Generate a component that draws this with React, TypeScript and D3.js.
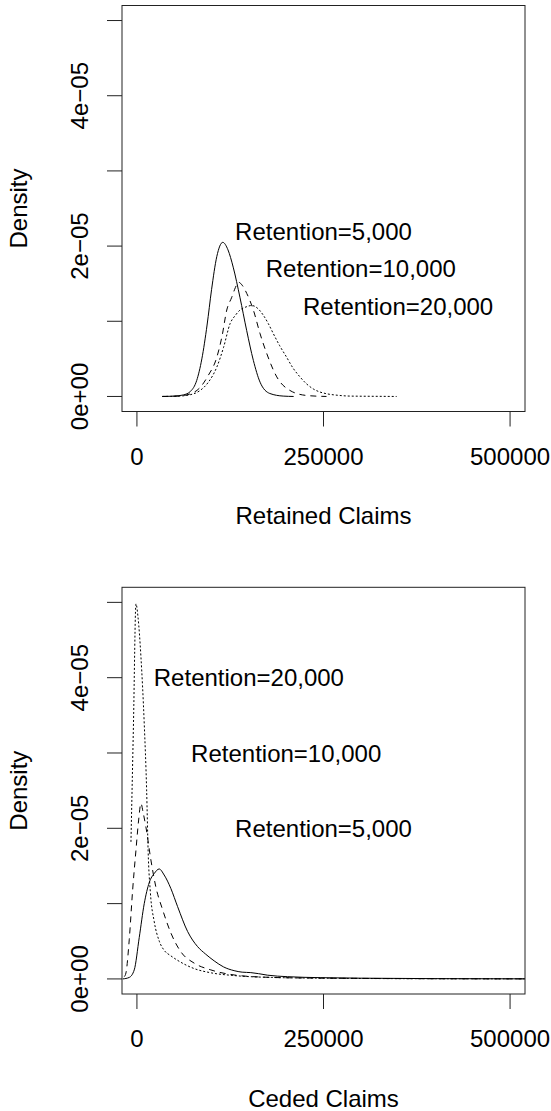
import React, { useEffect, useRef } from 'react';
import * as d3 from 'd3';

// density values are in units of 1e-05
const retained5kX = [34000, 50000, 62000, 72000, 80000, 87000, 94000, 100000, 107000, 115000, 122000, 129000, 138000, 147000, 156000, 165000, 178000, 196000, 210000];
const retained5kY = [0, 0.005, 0.02, 0.07, 0.21, 0.5, 0.95, 1.42, 1.86, 2.05, 1.95, 1.72, 1.32, 0.88, 0.48, 0.19, 0.04, 0.005, 0];

const retained10kX = [34000, 55000, 70000, 84700, 95000, 107000, 114000, 120400, 127100, 132000, 136000, 141000, 147200, 156000, 165000, 174000, 187400, 205000, 227500, 254000];
const retained10kY = [0, 0.005, 0.03, 0.12, 0.27, 0.52, 0.8, 1.15, 1.32, 1.45, 1.52, 1.48, 1.37, 1.15, 0.835, 0.57, 0.26, 0.08, 0.013, 0];

const retained20kX = [34000, 55000, 70000, 84700, 95000, 107000, 116000, 124900, 132000, 138200, 146000, 153900, 162000, 169400, 176000, 182800, 191000, 200700, 209000, 218500, 227000, 236300, 245000, 254300, 270000, 285500, 320000, 348000];
const retained20kY = [0, 0.004, 0.02, 0.08, 0.18, 0.39, 0.65, 0.97, 1.08, 1.15, 1.19, 1.21, 1.17, 1.08, 0.97, 0.835, 0.68, 0.52, 0.38, 0.26, 0.17, 0.1, 0.06, 0.036, 0.015, 0.005, 0.002, 0];

const ceded5kX = [-19100, -10300, -3600, 3100, 9800, 16500, 23200, 29800, 36500, 45500, 54500, 67900, 81200, 92000, 103500, 116000, 130200, 141000, 152600, 163000, 174900, 201700, 246200, 300000, 400000, 540000];
const ceded5kY = [0, 0.02, 0.12, 0.55, 1.0, 1.28, 1.4, 1.46, 1.38, 1.2, 0.96, 0.63, 0.43, 0.33, 0.24, 0.16, 0.11, 0.09, 0.084, 0.07, 0.05, 0.03, 0.017, 0.01, 0.004, 0.001];

const ceded10kX = [-17000, -14700, -10300, -5750, -1300, 2300, 5350, 8500, 12000, 18700, 25400, 34400, 45500, 58900, 76700, 99000, 130200, 174900, 230000, 300000, 400000, 540000];
const ceded10kY = [0.03, 0.08, 0.52, 1.18, 1.71, 2.11, 2.33, 2.2, 2.02, 1.58, 1.22, 0.92, 0.61, 0.36, 0.21, 0.12, 0.053, 0.022, 0.012, 0.007, 0.003, 0.001];

const ceded20kX = [-8000, -4600, -1300, 1500, 5350, 9800, 13000, 15000, 18000, 23200, 30000, 36500, 45000, 54000, 76000, 100000, 130000, 180000, 250000, 350000, 540000];
const ceded20kY = [1.82, 3.4, 4.98, 4.8, 4.28, 3.39, 2.51, 1.7, 1.15, 0.76, 0.5, 0.38, 0.31, 0.25, 0.14, 0.08, 0.045, 0.02, 0.01, 0.004, 0.001];

const xTicks = [0, 250000, 500000];
const yTicks = [0, 1, 2, 3, 4, 5];
const yTickLabels = ['0e+00', '', '2e\u221205', '', '4e\u221205', ''];

const retainedLabels = ['Retention=5,000', 'Retention=10,000', 'Retention=20,000'];
const retainedLabelX = [250000, 300000, 350000];
const retainedLabelY = [2.2, 1.7, 1.2];

const cededLabels = ['Retention=20,000', 'Retention=10,000', 'Retention=5,000'];
const cededLabelX = [150000, 200000, 250000];
const cededLabelY = [4.0, 3.0, 2.0];

const dashes = [null, '6,5', '2,2'];

const App = () => {
  const svgRef = useRef(null);

  useEffect(() => {
    const svg = d3.select(svgRef.current);
    svg.selectAll('*').remove();

    const font = '"Liberation Sans", Arial, Helvetica, sans-serif';
    const left = 122;
    const right = 525;

    const drawPanel = (id, top, bottom, series, labels, labelX, labelY, title) => {
      // R style 4% padding on both axes
      const x = d3.scaleLinear().domain([-20000, 520000]).range([left, right]);
      const y = d3.scaleLinear().domain([-0.2, 5.2]).range([bottom, top]);

      const g = svg.append('g');

      g.append('clipPath').attr('id', id)
        .append('rect')
        .attr('x', left).attr('y', top)
        .attr('width', right - left).attr('height', bottom - top);

      const line = d3.line()
        .x(d => x(d[0]))
        .y(d => y(d[1]))
        .curve(d3.curveMonotoneX);

      series.forEach((s, i) => {
        g.append('path')
          .attr('d', line(s.xs.map((v, j) => [v, s.ys[j]])))
          .attr('fill', 'none')
          .attr('stroke', '#000')
          .attr('stroke-width', 1)
          .attr('stroke-dasharray', dashes[i])
          .attr('clip-path', `url(#${id})`);
      });

      g.append('rect')
        .attr('x', left).attr('y', top)
        .attr('width', right - left).attr('height', bottom - top)
        .attr('fill', 'none')
        .attr('stroke', '#222')
        .attr('stroke-width', 1);

      // y axis
      yTicks.forEach((t, i) => {
        g.append('line')
          .attr('x1', left - 15).attr('x2', left)
          .attr('y1', y(t)).attr('y2', y(t))
          .attr('stroke', '#222');
        if (yTickLabels[i]) {
          g.append('text')
            .attr('transform', `translate(88,${y(t)}) rotate(-90)`)
            .attr('text-anchor', 'middle')
            .style('font-family', font)
            .style('font-size', '24px')
            .text(yTickLabels[i]);
        }
      });

      g.append('text')
        .attr('transform', `translate(27,${(top + bottom) / 2}) rotate(-90)`)
        .attr('text-anchor', 'middle')
        .style('font-family', font)
        .style('font-size', '24px')
        .text('Density');

      // x axis
      xTicks.forEach(t => {
        g.append('line')
          .attr('x1', x(t)).attr('x2', x(t))
          .attr('y1', bottom).attr('y2', bottom + 15)
          .attr('stroke', '#222');
        g.append('text')
          .attr('x', x(t))
          .attr('y', bottom + 53)
          .attr('text-anchor', 'middle')
          .style('font-family', font)
          .style('font-size', '24px')
          .text(t);
      });

      g.append('text')
        .attr('x', (left + right) / 2)
        .attr('y', bottom + 112.5)
        .attr('text-anchor', 'middle')
        .style('font-family', font)
        .style('font-size', '24px')
        .text(title);

      labels.forEach((l, i) => {
        g.append('text')
          .attr('x', x(labelX[i]))
          .attr('y', y(labelY[i]) + 8.6)
          .attr('text-anchor', 'middle')
          .style('font-family', font)
          .style('font-size', '24px')
          .text(l);
      });
    };

    drawPanel('clipTop', 5.5, 411.5, [
      { xs: retained5kX, ys: retained5kY },
      { xs: retained10kX, ys: retained10kY },
      { xs: retained20kX, ys: retained20kY },
    ], retainedLabels, retainedLabelX, retainedLabelY, 'Retained Claims');

    drawPanel('clipBottom', 587.3, 994, [
      { xs: ceded5kX, ys: ceded5kY },
      { xs: ceded10kX, ys: ceded10kY },
      { xs: ceded20kX, ys: ceded20kY },
    ], cededLabels, cededLabelX, cededLabelY, 'Ceded Claims');
  }, []);

  return (
    <svg
      ref={svgRef}
      width={551}
      height={1111}
      style={{ position: 'absolute', left: 0, top: 0, background: 'white' }}
    />
  );
};

export default App;
